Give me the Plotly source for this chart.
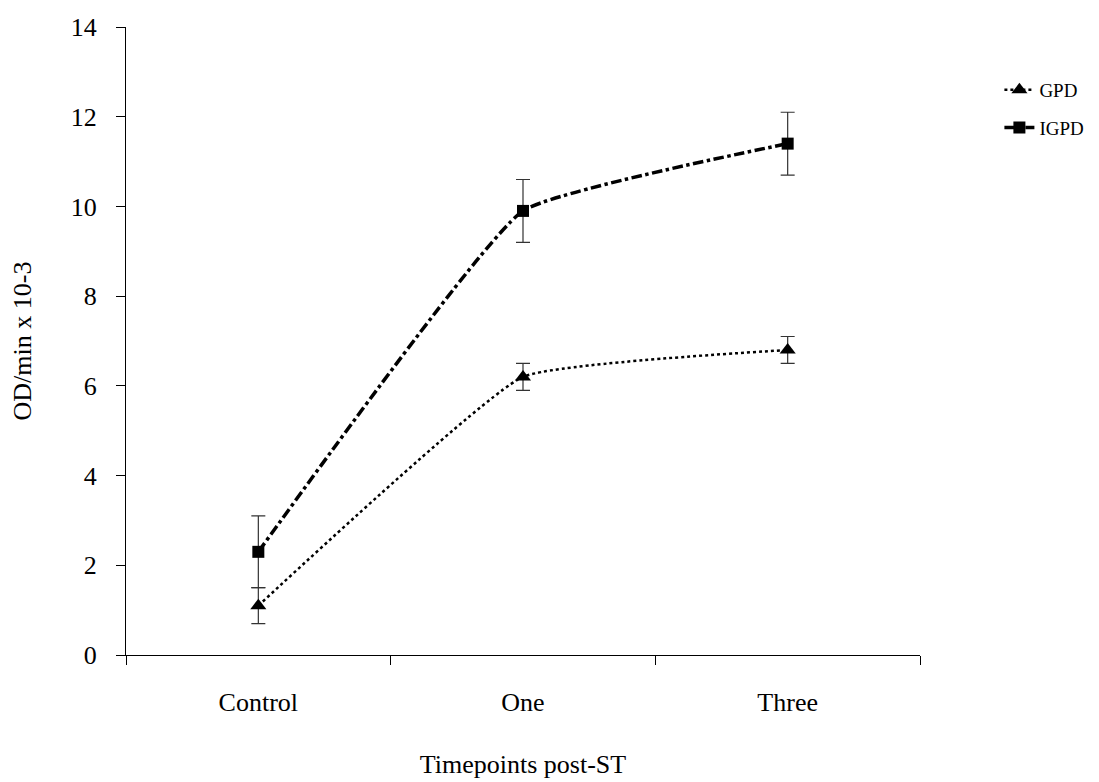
import plotly.graph_objects as go

categories = ["Control", "One", "Three"]
gpd = [1.1, 6.2, 6.8]
gpd_err = [0.4, 0.3, 0.3]
igpd = [2.3, 9.9, 11.4]
igpd_err = [0.8, 0.7, 0.7]

FONT = "Liberation Serif, Times New Roman, serif"

fig = go.Figure()
fig.add_trace(go.Scatter(
    x=categories, y=gpd, name="GPD", mode="lines+markers",
    line=dict(color="black", width=2.5, dash="dot", shape="spline", smoothing=0.35),
    marker=dict(symbol="triangle-up", size=14, color="black"),
    error_y=dict(type="data", array=gpd_err, visible=True, color="#333333", thickness=1.2, width=7),
    legendgroup="a",
))
fig.add_trace(go.Scatter(
    x=categories, y=igpd, name="IGPD", mode="lines+markers",
    line=dict(color="black", width=3.5, dash="dashdot", shape="spline", smoothing=0.35),
    marker=dict(symbol="square", size=12, color="black"),
    error_y=dict(type="data", array=igpd_err, visible=True, color="#333333", thickness=1.2, width=7),
    legendgroup="b",
))

fig.update_layout(
    width=1091, height=774,
    margin=dict(l=118, r=179, t=19, b=127, autoexpand=False),
    paper_bgcolor="white", plot_bgcolor="white",
    font=dict(family=FONT, color="black", size=26),
    showlegend=True,
    legend=dict(x=1.1, y=0.93, xanchor="left", yanchor="top",
                font=dict(family=FONT, size=19, color="black"),
                tracegroupgap=10, bgcolor="rgba(0,0,0,0)"),
    xaxis=dict(
        type="category", tickson="boundaries", ticks="outside", ticklen=9,
        tickcolor="black", tickwidth=1, showline=True, linecolor="black", linewidth=1,
        showgrid=False, zeroline=False, tickfont=dict(size=26),
        ticklabelstandoff=24, automargin=False,
        title=dict(text="Timepoints post-ST", font=dict(size=26), standoff=38),
        range=[-0.5, 2.5],
    ),
    yaxis=dict(
        range=[0, 14], dtick=2, ticks="outside", ticklen=9, tickcolor="black",
        tickwidth=1, showline=True, linecolor="black", linewidth=1,
        showgrid=False, zeroline=False, tickfont=dict(size=26),
        ticklabelstandoff=14, automargin=False,
        title=dict(text="OD/min x 10-3", font=dict(size=26), standoff=34),
    ),
)

fig.write_html("out.html")
